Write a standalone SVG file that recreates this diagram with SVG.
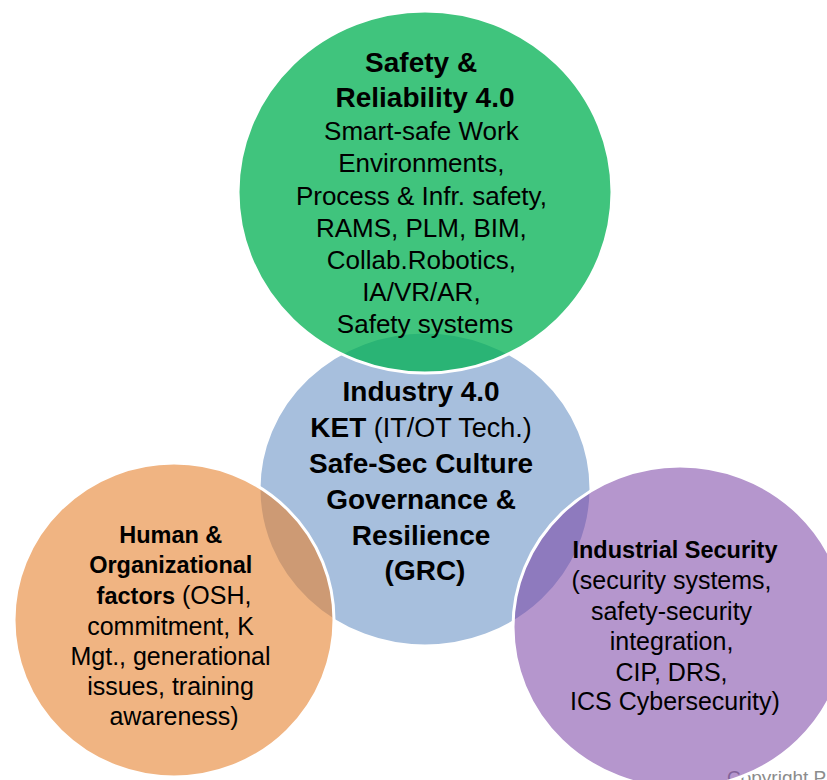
<svg xmlns="http://www.w3.org/2000/svg" width="827" height="780" viewBox="0 0 827 780">
  <style>
    .c { stroke: #ffffff; stroke-width: 3; }
    .t { font-family: "Liberation Sans", Arial, sans-serif; fill: #000000; text-anchor: middle; }
    .b { font-weight: bold; }
    .copy { font-family: "Liberation Sans", Arial, sans-serif; fill: #8c8c8c; font-size: 19px; }
  </style>
  <rect width="827" height="780" fill="#ffffff"/>
  <g id="connectors"/>
  <g id="node-industry40">
    <ellipse class="c" cx="425" cy="489" rx="166" ry="157" fill="#a7bfdd"/>
    <text class="t b" font-size="28">
      <tspan x="425" y="401">Industry 4.0</tspan>
      <tspan x="425" y="437">KET<tspan font-weight="normal" font-size="27"> (IT/OT Tech.)</tspan></tspan>
      <tspan x="425" y="473">Safe-Sec Culture</tspan>
      <tspan x="425" y="509">Governance &amp;</tspan>
      <tspan x="425" y="545">Resilience</tspan>
      <tspan x="425" y="580">(GRC)</tspan>
    </text>
  </g>
  <g id="node-safety">
    <ellipse class="c" cx="425" cy="192" rx="187" ry="181" fill="rgb(0,176,81)" fill-opacity="0.75"/>
    <text class="t b" font-size="28">
      <tspan x="425" y="72">Safety &amp;</tspan>
      <tspan x="425" y="107">Reliability 4.0</tspan>
    </text>
    <text class="t" font-size="26">
      <tspan x="425" y="140">Smart-safe Work</tspan>
      <tspan x="425" y="172">Environments,</tspan>
      <tspan x="425" y="205">Process &amp; Infr. safety,</tspan>
      <tspan x="425" y="237">RAMS, PLM, BIM,</tspan>
      <tspan x="425" y="269">Collab.Robotics,</tspan>
      <tspan x="425" y="301">IA/VR/AR,</tspan>
      <tspan x="425" y="333">Safety systems</tspan>
    </text>
  </g>
  <g id="node-human">
    <ellipse class="c" cx="174" cy="620" rx="160" ry="157" fill="rgb(230,130,47)" fill-opacity="0.6"/>
    <text class="t b" font-size="23.5">
      <tspan x="174" y="543">Human &amp;</tspan>
      <tspan x="174" y="573">Organizational</tspan>
      <tspan x="174" y="604">factors<tspan font-weight="normal" font-size="25"> (OSH,</tspan></tspan>
    </text>
    <text class="t" font-size="25">
      <tspan x="174" y="635">commitment, K</tspan>
      <tspan x="174" y="665">Mgt., generational</tspan>
      <tspan x="174" y="695">issues, training</tspan>
      <tspan x="174" y="725">awareness)</tspan>
    </text>
  </g>
  <text class="copy" x="727" y="784">Copyright P</text>
  <g id="node-security">
    <ellipse class="c" cx="680" cy="627" rx="167" ry="161" fill="rgb(123,68,166)" fill-opacity="0.56"/>
    <text class="t b" font-size="23.5">
      <tspan x="675" y="558">Industrial Security</tspan>
    </text>
    <text class="t" font-size="25">
      <tspan x="675" y="589">(security systems,</tspan>
      <tspan x="675" y="620">safety-security</tspan>
      <tspan x="675" y="650">integration,</tspan>
      <tspan x="675" y="681">CIP, DRS,</tspan>
      <tspan x="675" y="710">ICS Cybersecurity)</tspan>
    </text>
  </g>
</svg>
